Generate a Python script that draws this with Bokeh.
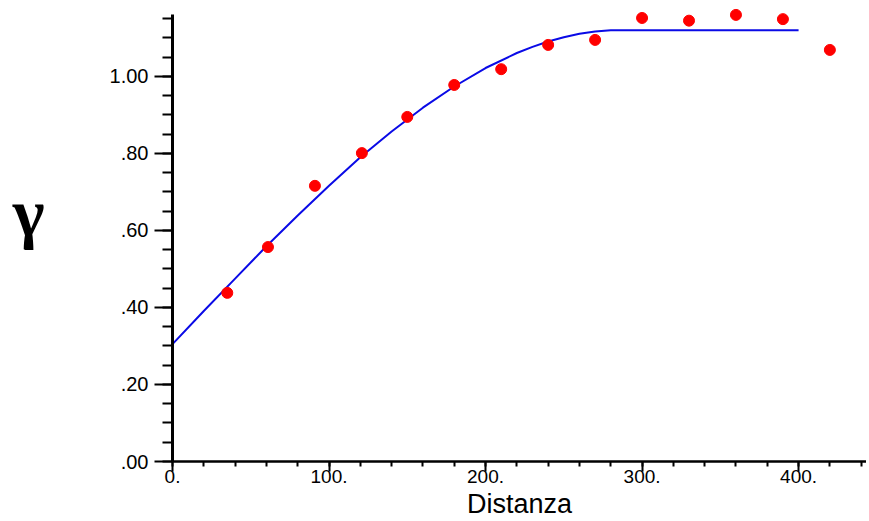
from bokeh.plotting import figure
from bokeh.models import FixedTicker, Range1d, LinearAxis
from bokeh.embed import file_html
from bokeh.resources import INLINE

# Experimental variogram points
dist = [35, 61, 91, 121, 150, 180, 210, 240, 270, 300, 330, 360, 390, 420]
gamma = [0.438, 0.557, 0.716, 0.801, 0.895, 0.978, 1.019, 1.082, 1.095,
         1.152, 1.145, 1.160, 1.149, 1.069]

# Fitted model curve
model_x = [0, 20, 40, 60, 80, 100, 120, 140, 160, 180, 200, 220, 230, 240, 250,
           260, 270, 280, 285, 400]
model_y = [0.305, 0.391, 0.475, 0.559, 0.639, 0.716, 0.790, 0.857, 0.919, 0.974,
           1.022, 1.061, 1.077, 1.091, 1.102, 1.111, 1.117, 1.120, 1.120, 1.120]

x_major = [0, 100, 200, 300, 400]
x_labels = ["0.", "100.", "200.", "300.", "400."]
x_minor = list(range(0, 441, 20))
y_major = [0.0, 0.2, 0.4, 0.6, 0.8, 1.0]
y_labels = [".00", ".20", ".40", ".60", ".80", "1.00"]
y_minor = [i * 0.05 for i in range(0, 24)]
y_title = "γ"

p = figure(width=866, height=521, output_backend="svg", toolbar_location=None,
           x_range=Range1d(0, 443.4), y_range=Range1d(0, 1.1766),
           min_border_left=172, min_border_right=0, min_border_top=8,
           min_border_bottom=60)
p.outline_line_color = None
p.xgrid.visible = False
p.ygrid.visible = False
p.background_fill_color = "white"

p.line(model_x, model_y, line_color="#0a0ae6", line_width=2)
p.scatter(dist, gamma, size=11, fill_color="#ff0000", line_color="#ff0000")

font = "Liberation Sans"
xa = p.xaxis[0]
xa.ticker = FixedTicker(ticks=x_major, minor_ticks=x_minor)
xa.major_label_overrides = dict(zip(x_major, x_labels))
xa.bounds = (0, 443.4)
xa.axis_line_width = 2.5
xa.major_tick_out = 10
xa.major_tick_in = 0
xa.minor_tick_out = 5
xa.minor_tick_in = 0
xa.major_tick_line_width = 2
xa.minor_tick_line_width = 2
xa.major_label_text_font = font
xa.major_label_text_font_size = "19px"
xa.major_label_text_color = "black"
xa.major_label_standoff = -2
xa.axis_label = "Distanza"
xa.axis_label_text_font = font
xa.axis_label_text_font_style = "normal"
xa.axis_label_text_font_size = "27px"
xa.axis_label_text_color = "black"
xa.axis_label_standoff = 3

ya = p.yaxis[0]
ya.ticker = FixedTicker(ticks=y_major, minor_ticks=y_minor)
ya.major_label_overrides = dict(zip(y_major, y_labels))
ya.bounds = (0, 1.16)
ya.axis_line_width = 3
ya.major_tick_out = 18
ya.major_tick_in = 0
ya.minor_tick_out = 10
ya.minor_tick_in = 0
ya.major_tick_line_width = 2
ya.minor_tick_line_width = 2
ya.major_label_text_font = font
ya.major_label_text_font_size = "20px"
ya.major_label_text_color = "black"
ya.major_label_standoff = 6

# A second, bare axis carries the gamma symbol at its place on the left
title_pos = 0.645
ga = LinearAxis(ticker=FixedTicker(ticks=[title_pos], minor_ticks=[]),
                major_label_overrides={title_pos: y_title})
ga.axis_line_color = None
ga.major_tick_line_color = None
ga.minor_tick_line_color = None
ga.major_label_text_font = "Liberation Serif"
ga.major_label_text_font_style = "bold"
ga.major_label_text_font_size = "68px"
ga.major_label_text_color = "black"
ga.major_label_standoff = 56
p.add_layout(ga, "left")

open("out.html", "w").write(file_html(p, INLINE))
